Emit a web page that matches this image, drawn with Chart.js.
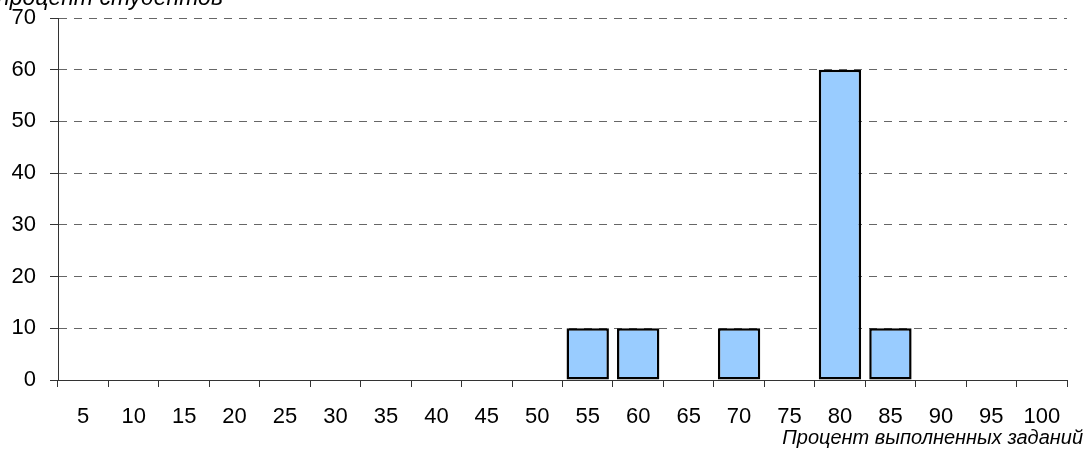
<!DOCTYPE html>
<html><head><meta charset="utf-8">
<script src="https://cdn.jsdelivr.net/npm/chart.js@4"></script>
<style>html,body{margin:0;padding:0;background:#fff}#w{width:1087px;height:451px;position:relative}</style>
</head><body><div id="w"><canvas id="c"></canvas></div>
<script>
const categories = ['5','10','15','20','25','30','35','40','45','50','55','60','65','70','75','80','85','90','95','100'];
const studentPercent = [0,0,0,0,0,0,0,0,0,0,10,10,0,10,0,60,10,0,0,0];
const yMin = 0, yMax = 70, yStep = 10;
const yTitle = 'процент студентов';
const xTitle = 'Процент выполненных заданий';

const FONT = '"Liberation Sans", Arial, sans-serif';

const titlesPlugin = {
  id: 'titles',
  afterDraw(chart) {
    const ctx = chart.ctx;
    ctx.save();
    ctx.fillStyle = '#000';
    ctx.textBaseline = 'alphabetic';
    ctx.font = 'italic 23px ' + FONT;
    ctx.textAlign = 'left';
    ctx.fillText(yTitle, -3, 5);
    ctx.font = 'italic 20px ' + FONT;
    ctx.textAlign = 'right';
    ctx.fillText(xTitle, 1083, 444);
    ctx.restore();
  }
};

new Chart(document.getElementById('c'), {
  type: 'bar',
  data: {
    labels: categories,
    datasets: [{
      data: studentPercent,
      backgroundColor: '#99CCFF',
      borderColor: '#000',
      borderWidth: 2.5,
      borderSkipped: false,
      barPercentage: 0.84,
      categoryPercentage: 1
    }]
  },
  options: {
    responsive: true,
    maintainAspectRatio: false,
    animation: false,
    layout: { padding: { top: 18, right: 20, left: 0, bottom: 0 } },
    plugins: { legend: { display: false }, tooltip: { enabled: false } },
    scales: {
      x: {
        offset: true,
        grid: { display: true, drawOnChartArea: false, offset: true, color: '#333', tickLength: 7, tickColor: '#333' },
        border: { display: true, color: '#333', width: 1 },
        ticks: { color: '#000', font: { size: 22, family: FONT }, padding: 17, maxRotation: 0, autoSkip: false },
        afterFit(s) { s.height = 71; s.paddingLeft = 0; s.paddingRight = 0; }
      },
      y: {
        min: yMin, max: yMax,
        grid: { color: '#666', tickLength: 8, tickColor: '#333', tickBorderDash: [], tickWidth: 1 },
        border: { display: true, color: '#333', width: 1, dash: [8, 7] },
        ticks: { stepSize: yStep, color: '#000', font: { size: 22, family: FONT }, padding: 14 },
        afterFit(s) { s.width = 58; s.paddingTop = 0; s.paddingBottom = 0; }
      }
    }
  },
  plugins: [titlesPlugin]
});
</script></body></html>
